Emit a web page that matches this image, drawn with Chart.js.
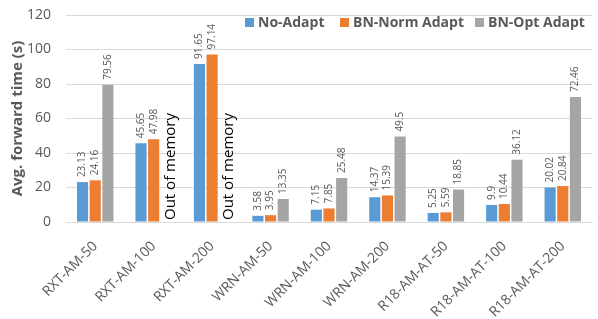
<!DOCTYPE html>
<html>
<head>
<meta charset="utf-8">
<script src="https://cdn.jsdelivr.net/npm/chart.js@4/dist/chart.umd.min.js"></script>
<style>
  html, body { margin: 0; padding: 0; background: #fff; }
  #wrap { width: 598px; height: 319px; }
</style>
</head>
<body>
<div id="wrap"><canvas id="chart"></canvas></div>
<script>
// data
const categories = ['RXT-AM-50', 'RXT-AM-100', 'RXT-AM-200', 'WRN-AM-50', 'WRN-AM-100', 'WRN-AM-200', 'R18-AM-AT-50', 'R18-AM-AT-100', 'R18-AM-AT-200'];
const noAdapt = [23.13, 45.65, 91.65, 3.58, 7.15, 14.37, 5.25, 9.9, 20.02];
const bnNorm = [24.16, 47.98, 97.14, 3.95, 7.85, 15.39, 5.59, 10.44, 20.84];
const bnOpt = [79.56, null, null, 13.35, 25.48, 49.5, 18.85, 36.12, 72.46];
const seriesNames = ['No-Adapt', 'BN-Norm Adapt', 'BN-Opt Adapt'];
const missingText = 'Out of memory';

const colors = ['#5B9BD5', '#ED7D31', '#A5A5A5'];
const FONT = "'Open Sans', 'Liberation Sans', sans-serif";

// value labels over bars + "Out of memory" where the bar is missing
const labelPlugin = {
  id: 'barLabels',
  afterDatasetsDraw(chart) {
    const ctx = chart.ctx;
    const y0 = chart.scales.y.getPixelForValue(0);
    chart.data.datasets.forEach((ds, i) => {
      const meta = chart.getDatasetMeta(i);
      meta.data.forEach((bar, j) => {
        const v = ds.data[j];
        ctx.save();
        if (v === null) {
          ctx.translate(bar.x + 4, y0 - 2);
          ctx.rotate(-Math.PI / 2);
          ctx.font = '15px ' + FONT;
          ctx.fillStyle = '#000';
          ctx.textAlign = 'left';
          ctx.textBaseline = 'middle';
          ctx.fillText(missingText, 0, 0);
        } else {
          ctx.translate(bar.x, bar.y - 5);
          ctx.rotate(-Math.PI / 2);
          ctx.font = '10px ' + FONT;
          ctx.fillStyle = '#595959';
          ctx.textAlign = 'left';
          ctx.textBaseline = 'middle';
          ctx.fillText(String(v), 0, 0);
        }
        ctx.restore();
      });
    });
  }
};

// legend drawn inside the plot, top right
const legendPlugin = {
  id: 'insideLegend',
  afterDraw(chart) {
    const ctx = chart.ctx;
    const xs = [245, 340, 475];
    ctx.save();
    ctx.font = 'bold 14px ' + FONT;
    ctx.textBaseline = 'middle';
    chart.data.datasets.forEach((ds, i) => {
      ctx.fillStyle = ds.backgroundColor;
      ctx.fillRect(xs[i], 18, 9, 9);
      ctx.fillStyle = '#595959';
      ctx.fillText(ds.label, xs[i] + 13, 23);
    });
    ctx.restore();
  }
};

new Chart(document.getElementById('chart').getContext('2d'), {
  type: 'bar',
  data: {
    labels: categories,
    datasets: [noAdapt, bnNorm, bnOpt].map((d, i) => ({
      label: seriesNames[i],
      data: d,
      backgroundColor: colors[i],
      borderWidth: 0,
      categoryPercentage: 0.65,
      barPercentage: 0.88
    }))
  },
  options: {
    responsive: true,
    maintainAspectRatio: false,
    animation: false,
    layout: { padding: { top: 15, right: 6, left: 0, bottom: 0 } },
    plugins: {
      legend: { display: false },
      tooltip: { enabled: false }
    },
    scales: {
      y: {
        min: 0,
        max: 120,
        ticks: { stepSize: 20, color: '#595959', font: { size: 14, family: FONT }, padding: 15 },
        grid: { color: '#D9D9D9', drawTicks: false },
        border: { display: false },
        title: { display: true, text: 'Avg. forward time (s)', color: '#595959', padding: { top: 9, bottom: 0 }, font: { size: 15, weight: 'bold', family: FONT } },
        afterFit(scale) {
          scale.width = 66;
          scale.paddingTop = 0;
          scale.paddingBottom = 0;
        }
      },
      x: {
        ticks: { color: '#595959', font: { size: 14, family: FONT }, minRotation: 45, maxRotation: 45, padding: 8 },
        grid: { display: false },
        border: { color: '#D9D9D9' },
        afterFit(scale) {
          // let the slanted labels hang past the plot edges, as in the picture
          scale.paddingLeft = 0;
          scale.paddingRight = 0;
          scale.height = 97;
        }
      }
    }
  },
  plugins: [labelPlugin, legendPlugin]
});
</script>
</body>
</html>
